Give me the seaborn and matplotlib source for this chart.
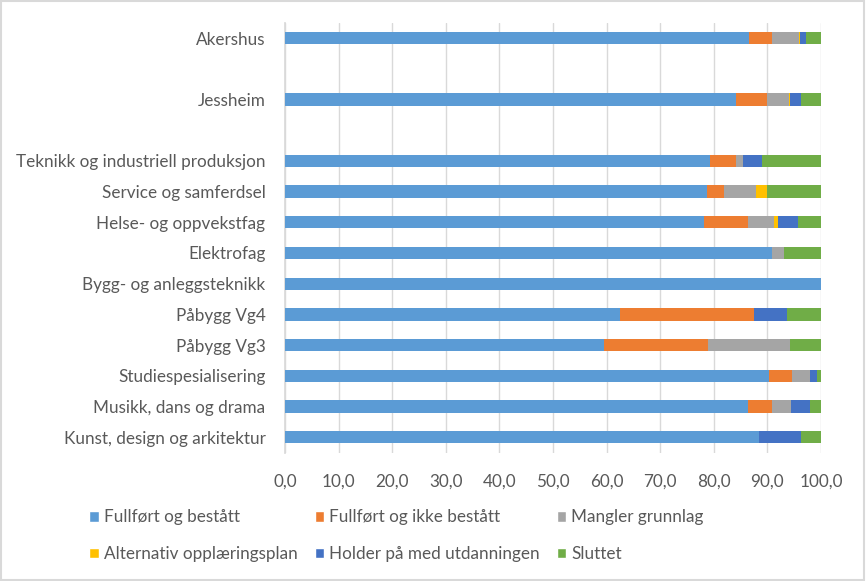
import numpy as np
import pandas as pd
import seaborn as sns
import matplotlib.pyplot as plt
from matplotlib.patches import Patch, Rectangle

# rows top to bottom, blank rows are spacers in the original chart
categories = ['Akershus', ' ', 'Jessheim', '  ',
              'Teknikk og industriell produksjon', 'Service og samferdsel',
              'Helse- og oppvekstfag', 'Elektrofag', 'Bygg- og anleggsteknikk',
              'Påbygg Vg4', 'Påbygg Vg3', 'Studiespesialisering',
              'Musikk, dans og drama', 'Kunst, design og arkitektur']

series_names = ['Fullført og bestått', 'Fullført og ikke bestått', 'Mangler grunnlag',
                'Alternativ opplæringsplan', 'Holder på med utdanningen', 'Sluttet']

fullfort_bestatt = [86.6, 0, 84.2, 0, 79.3, 78.7, 78.2, 90.8, 100.0, 62.5, 59.5, 90.3, 86.4, 88.4]
fullfort_ikke = [4.3, 0, 5.8, 0, 4.9, 3.2, 8.1, 0, 0, 25.0, 19.4, 4.3, 4.5, 0]
mangler = [5.0, 0, 4.1, 0, 1.2, 6.0, 5.0, 2.3, 0, 0, 15.3, 3.4, 3.5, 0]
alternativ = [0.1, 0, 0.2, 0, 0, 2.1, 0.7, 0, 0, 0, 0, 0, 0, 0]
holder_pa = [1.2, 0, 2.0, 0, 3.6, 0, 3.8, 0, 0, 6.25, 0, 1.2, 3.5, 7.9]
sluttet = [2.8, 0, 3.7, 0, 11.0, 10.0, 4.2, 6.9, 0, 6.25, 5.8, 0.8, 2.1, 3.7]

colors = ['#5B9BD5', '#ED7D31', '#A5A5A5', '#FFC000', '#4472C4', '#70AD47']
ticks = [0, 10, 20, 30, 40, 50, 60, 70, 80, 90, 100]

sns.set_theme(style='white')
plt.rcParams['font.family'] = ['Lato', 'DejaVu Sans']
txt = '#595959'

values = np.array([fullfort_bestatt, fullfort_ikke, mangler, alternativ, holder_pa, sluttet])
cum = values.cumsum(axis=0)

fig = plt.figure(figsize=(8.66, 5.81), dpi=100)
ax = fig.add_axes([0.329, 0.221, 0.619, 0.740])

# draw cumulative totals from the back to the front
for i in range(len(series_names) - 1, -1, -1):
    df = pd.DataFrame({'cat': categories, 'val': cum[i]})
    sns.barplot(data=df, x='val', y='cat', orient='h', color=colors[i],
                width=0.4, saturation=1, ax=ax, zorder=3, linewidth=0)

ax.set_xlim(0, 100)
ax.set_xticks(ticks)
ax.set_xticklabels([f'{t:.1f}'.replace('.', ',') for t in ticks])
ax.set_xlabel('')
ax.set_ylabel('')
ax.grid(axis='x', color='#D9D9D9', linewidth=1, zorder=0)
for s in ['top', 'right', 'bottom']:
    ax.spines[s].set_visible(False)
ax.spines['left'].set_color('#D9D9D9')
ax.tick_params(axis='both', length=0, labelsize=12.3, colors=txt)
ax.tick_params(axis='y', pad=14)
ax.tick_params(axis='x', pad=15)

handles = [Patch(facecolor=c, label=n) for c, n in zip(colors, series_names)]
order = [0, 3, 1, 4, 2, 5]
fig.legend([handles[k] for k in order], [series_names[k] for k in order],
           ncol=3, loc='center', bbox_to_anchor=(0.458, 0.078), frameon=False,
           fontsize=12.3, labelcolor=txt, handlelength=0.55, handleheight=0.55,
           handletextpad=0.3, columnspacing=1.0, labelspacing=1.2)

fig.patches.append(Rectangle((0.001, 0.001), 0.997, 0.997, transform=fig.transFigure,
                             fill=False, edgecolor='#D9D9D9', linewidth=1.5))

fig.savefig('out.png', dpi=100)
